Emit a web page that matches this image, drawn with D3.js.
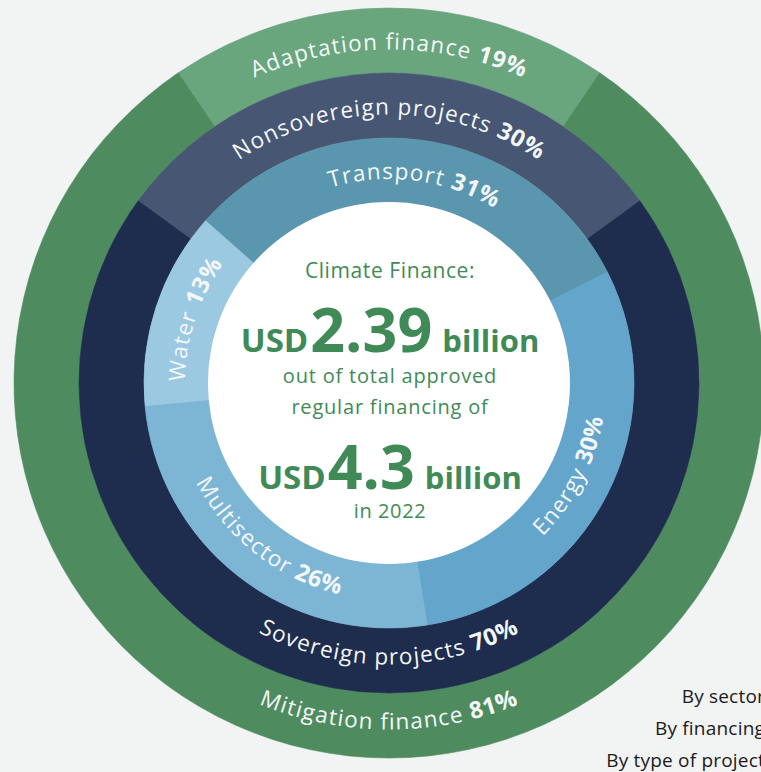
<!DOCTYPE html>
<html>
<head>
<meta charset="utf-8">
<script src="https://cdn.jsdelivr.net/npm/d3@7"></script>
<style>
  html, body { margin: 0; padding: 0; background: #f2f3f3; }
  svg { display: block; }
</style>
</head>
<body>
<svg id="chart" width="761" height="772"></svg>
<script>
// ---- Data ----
const typeLabels = ["Adaptation finance", "Mitigation finance"];
const typeValues = [19, 81];
const financingLabels = ["Nonsovereign projects", "Sovereign projects"];
const financingValues = [30, 70];
const sectorLabels = ["Transport", "Energy", "Multisector", "Water"];
const sectorValues = [31, 30, 26, 13];
const legendLabels = ["By sector", "By financing", "By type of project"];
const headline = "Climate Finance:";
const approvedClimate = "2.39";
const totalFinancing = "4.3";
const middleLines = ["out of total approved", "regular financing of"];
const yearLine = "in 2022";

// ---- Layout / style ----
const W = 761, H = 772;
const cx = 389, cy = 383;
const rCenter = 181, rSector = 245, rFin = 310, rType = 375;
const deg = Math.PI / 180;

const typeColors = ["#69a57d", "#4e8c5f"];
const finColors = ["#465673", "#1e2c4e"];
const sectorColors = ["#5a97ae", "#64a5cc", "#7db6d5", "#9bc9e1"];
const green = "#3f8a57";
const labelFont = "'Open Sans', sans-serif";

const svg = d3.select("#chart");
svg.append("rect").attr("width", W).attr("height", H).attr("fill", "#f2f3f3");
const g = svg.append("g").attr("transform", `translate(${cx},${cy})`);
const defs = svg.append("defs");

const rings = [
  { id: "type", labels: typeLabels, values: typeValues, colors: typeColors,
    r0: rFin, r1: rType, start: -0.19 * Math.PI },
  { id: "fin", labels: financingLabels, values: financingValues, colors: finColors,
    r0: rSector, r1: rFin, start: -0.30 * Math.PI },
  { id: "sec", labels: sectorLabels, values: sectorValues, colors: sectorColors,
    r0: rCenter, r1: rSector, start: -48.5 * deg }
];

function pt(a, r) { return [r * Math.sin(a), -r * Math.cos(a)]; }

rings.forEach(ring => {
  const data = ring.labels.map((l, i) => ({ label: l, value: ring.values[i], color: ring.colors[i] }));
  const pie = d3.pie().sort(null).value(d => d.value)
    .startAngle(ring.start).endAngle(ring.start + 2 * Math.PI);
  const arcs = pie(data);
  const arc = d3.arc().innerRadius(ring.r0).outerRadius(ring.r1);
  g.selectAll(null).data(arcs).enter().append("path")
    .attr("d", arc).attr("fill", d => d.data.color)
    .attr("stroke", d => d.data.color).attr("stroke-width", 0.6);

  arcs.forEach((a, i) => {
    const mid = (a.startAngle + a.endAngle) / 2;
    const m = ((mid % (2 * Math.PI)) + 2 * Math.PI) % (2 * Math.PI);
    const flip = m > Math.PI / 2 && m < 3 * Math.PI / 2;
    const rm = (ring.r0 + ring.r1) / 2;
    const r = flip ? rm + 4 : rm - 9;
    const span = 100 * deg;
    let p0, p1, sweep;
    if (!flip) { p0 = pt(mid - span, r); p1 = pt(mid + span, r); sweep = 1; }
    else { p0 = pt(mid + span, r); p1 = pt(mid - span, r); sweep = 0; }
    const pid = `lp-${ring.id}-${i}`;
    defs.append("path").attr("id", pid)
      .attr("d", `M${p0[0] + cx},${p0[1] + cy} A${r},${r} 0 1 ${sweep} ${p1[0] + cx},${p1[1] + cy}`);
    const t = svg.append("text")
      .attr("font-family", labelFont).attr("font-size", 22.5)
      .attr("fill", "#f4f7f8").attr("letter-spacing", 1.2);
    const tp = t.append("textPath").attr("href", `#${pid}`)
      .attr("startOffset", "50%").attr("text-anchor", "middle");
    tp.append("tspan").text(a.data.label + " ");
    tp.append("tspan").attr("font-weight", 700).attr("font-size", 23.5)
      .attr("letter-spacing", 0.6).text(a.data.value + "%");
  });
});

// center disc
g.append("circle").attr("r", rCenter).attr("fill", "#ffffff");

// center text
const ct = svg.append("g").attr("fill", green).attr("font-family", labelFont)
  .attr("text-anchor", "middle");
ct.append("text").attr("x", cx + 1).attr("y", 278).attr("font-size", 21)
  .attr("letter-spacing", 0.6).text(headline);

function bigLine(y, value) {
  const t = ct.append("text").attr("x", cx + 1).attr("y", y).attr("font-weight", 700);
  t.append("tspan").attr("font-size", 33).text("USD");
  t.append("tspan").attr("font-size", 61).attr("dx", 2).text(value);
  t.append("tspan").attr("font-size", 31).attr("dx", 10).text("billion");
}
bigLine(352, approvedClimate);
ct.selectAll(null).data(middleLines).enter().append("text")
  .attr("x", cx + 1).attr("y", (d, i) => 383 + i * 31)
  .attr("font-size", 20).attr("letter-spacing", 0.8).text(d => d);
bigLine(489, totalFinancing);
ct.append("text").attr("x", cx + 1).attr("y", 518).attr("font-size", 20)
  .attr("letter-spacing", 0.6).text(yearLine);

// legend labels (right, partly cut as in the reference)
svg.append("g").attr("font-family", labelFont).attr("font-size", 19)
  .attr("fill", "#1b1b1b").attr("text-anchor", "end").attr("letter-spacing", 0.2)
  .selectAll(null).data(legendLabels).enter().append("text")
  .attr("x", 765).attr("y", (d, i) => 703 + i * 32).text(d => d);
</script>
</body>
</html>
